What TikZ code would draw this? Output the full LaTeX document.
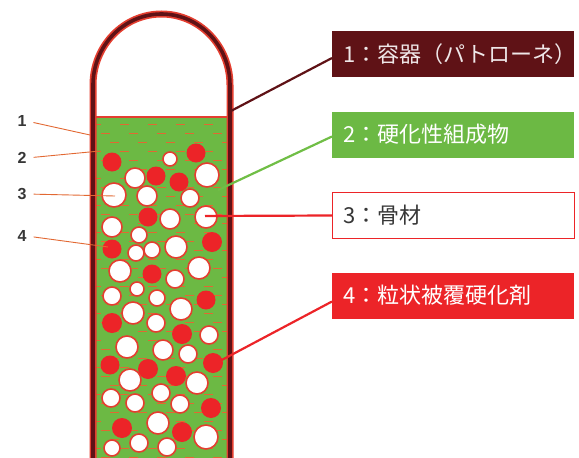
\documentclass[tikz,border=0pt]{standalone}
\usepackage{fontspec}
\newfontfamily\cjk{Noto Sans CJK JP}
\newfontfamily\numfont{Liberation Sans}
\definecolor{wallred}{RGB}{95,18,22}
\definecolor{glowred}{RGB}{228,62,48}
\definecolor{fillgreen}{RGB}{108,185,68}
\definecolor{linkgreen}{RGB}{112,190,70}
\definecolor{beadred}{RGB}{236,36,40}
\definecolor{dashorange}{RGB}{226,104,50}
\definecolor{labelgray}{RGB}{55,55,55}
\usetikzlibrary{positioning}

\tikzset{
  legend/.style={anchor=west, minimum height=46pt, text width=220pt, inner xsep=11pt,
    align=left, font=\cjk\fontsize{22}{24}\selectfont},
  bead/.style={fill=beadred},
  grain/.style={fill=white, draw=glowred, line width=1.6pt},
  pointer/.style={line width=2.2pt},
  tag/.style={font=\numfont\bfseries\fontsize{16}{16}\selectfont, text=labelgray, inner sep=0pt},
  tagline/.style={draw=dashorange, line width=0.9pt, shorten <=7pt},
  dashstroke/.style={draw=dashorange, line width=1pt}
}

\begin{document}
\begin{tikzpicture}[x=1pt, y=-1pt]
  \useasboundingbox (0,0) rectangle (579,458);

  % Filling of the tube
  \fill[fillgreen] (93,117) rectangle (230,458);
  \begin{scope}
    \clip (93,117) rectangle (230,458);
    \foreach \row in {0,...,37} {
      \pgfmathsetmacro\yy{124+9*\row}
      \pgfmathsetmacro\off{mod(\row,3)*9}
      \foreach \xx in {92,120,148,176,204}
        \draw[dashstroke] (\xx+\off,\yy) -- ++(9,0);
    }
  \end{scope}
  \draw[glowred, line width=1.2pt] (93,117) -- (230,117);

  % Hardener beads
  \foreach \x/\y/\r in {112/162/9.5, 196/153/9.5, 156/176/9.5, 179/182/9.5, 148/217/9.5,
      112/249/9.5, 212/242/10, 152/274/9.5, 206/300/9.5, 112/323/10, 182/334/10,
      110/365/9.5, 148/369/10, 176/376/10, 213/363/10, 211/408/10, 122/428/10, 182/432/10}
    \fill[bead] (\x,\y) circle (\r);

  % Aggregate grains
  \foreach \x/\y/\r in {170/159/7, 135/178/10, 207/175/12, 114/195/12, 147/196/10,
      190/198/9, 170/219/10, 206/217/11, 112/227/10, 139/235/8, 136/253/8, 152/250/8,
      176/247/11, 120/271/11, 175/279/9, 199/268/11, 137/289/7, 112/296/9, 157/298/8,
      133/313/11, 181/309/11, 156/323/9, 209/335/9, 127/347/11, 163/350/10, 188/354/9,
      130/380/11, 197/383/11, 111/398/9, 161/393/9, 135/403/9, 180/404/9, 158/423/11,
      206/437/12, 139/443/9, 167/447/9, 112/448/8}
    \draw[grain] (\x,\y) circle (\r);

  % Tube wall (patrone)
  \draw[glowred, line width=7pt]
    (93,458) -- (93,85) arc[start angle=180, end angle=360, x radius=68.5, y radius=71] -- (230,458);
  \draw[wallred, line width=3.6pt]
    (93,458) -- (93,85) arc[start angle=180, end angle=360, x radius=68.5, y radius=71] -- (230,458);

  % Points on the tube
  \coordinate (c1) at (229,112);
  \coordinate (c2) at (218,190);
  \coordinate (c3) at (205,216);
  \coordinate (c4) at (218,362);
  \coordinate (t1) at (90,135);
  \coordinate (t2) at (100,151);
  \coordinate (t3) at (115,196);
  \coordinate (t4) at (108,247);

  % Number tags on the left
  \node[tag] (tag1) at (22,121) {1};
  \node[tag] (tag2) at (22,158) {2};
  \node[tag] (tag3) at (22,194) {3};
  \node[tag] (tag4) at (22,236) {4};
  \draw[tagline] (tag1.east) -- (t1);
  \draw[tagline] (tag2.east) -- (t2);
  \draw[tagline] (tag3.east) -- (t3);
  \draw[tagline] (tag4.east) -- (t4);

  % Legend boxes
  \node[legend, fill=wallred, text={white!90!wallred}] (box1) at (332,54) {1：容器（パトローネ）};
  \node[legend, fill=fillgreen, text=white] (box2) at (332,134.5) {2：硬化性組成物};
  \node[legend, fill=white, draw=beadred, line width=1.2pt, text=labelgray] (box3) at (332,215.5) {3：骨材};
  \node[legend, fill=beadred, text=white] (box4) at (332,295.5) {4：粒状被覆硬化剤};

  \draw[pointer, wallred] ([yshift=-4pt]box1.west) -- (c1);
  \draw[pointer, linkgreen] ([yshift=-2pt]box2.west) -- (c2);
  \draw[pointer, beadred] (box3.west) -- (c3);
  \draw[pointer, beadred] ([yshift=-6pt]box4.west) -- (c4);
\end{tikzpicture}
\end{document}
